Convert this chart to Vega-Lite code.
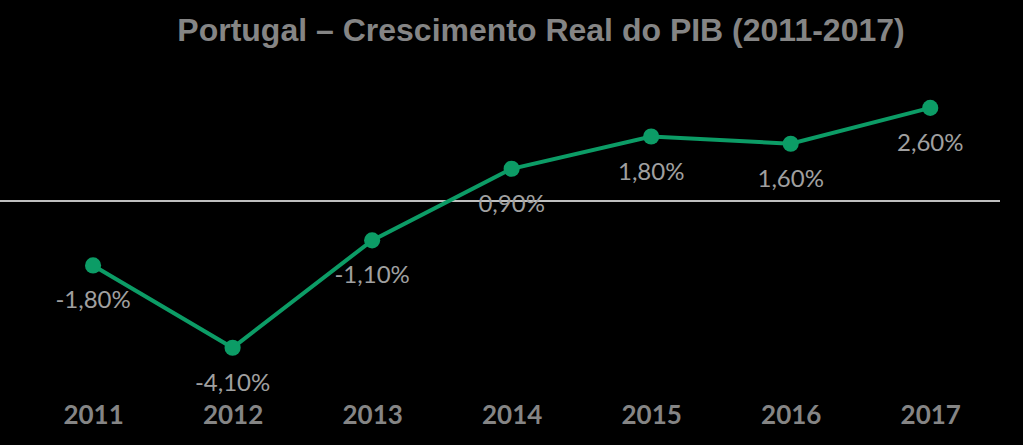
{
  "$schema": "https://vega.github.io/schema/vega-lite/v6.json",
  "width": 1000,
  "height": 330,
  "autosize": {"type": "none"},
  "padding": {"top": 70, "left": 0, "right": 23, "bottom": 45},
  "background": "#000000",
  "config": {
    "view": {"stroke": null},
    "locale": {"number": {"decimal": ",", "thousands": ".", "grouping": [3], "currency": ["", " €"], "minus": "-"}}
  },
  "title": {
    "text": "Portugal – Crescimento Real do PIB (2011-2017)",
    "font": "Liberation Sans",
    "fontWeight": "bold",
    "fontSize": 32,
    "color": "#858585",
    "anchor": "middle",
    "dx": 41,
    "offset": 22
  },
  "data": {
    "values": [
      {"ano": 2011, "pib": -0.018},
      {"ano": 2012, "pib": -0.041},
      {"ano": 2013, "pib": -0.011},
      {"ano": 2014, "pib": 0.009},
      {"ano": 2015, "pib": 0.018},
      {"ano": 2016, "pib": 0.016},
      {"ano": 2017, "pib": 0.026}
    ]
  },
  "encoding": {
    "x": {
      "field": "ano",
      "type": "quantitative",
      "scale": {"domain": [2010.333, 2017.5], "nice": false, "zero": false},
      "axis": {
        "values": [2011, 2012, 2013, 2014, 2015, 2016, 2017],
        "format": "d",
        "title": null,
        "grid": false,
        "ticks": false,
        "domain": false,
        "labelFlush": false,
        "labelOverlap": false,
        "labelFont": "Lato",
        "labelFontWeight": "bold",
        "labelFontSize": 26,
        "labelColor": "#858585",
        "labelPadding": 2
      }
    },
    "y": {
      "field": "pib",
      "type": "quantitative",
      "scale": {"domain": [-0.05559, 0.03659], "nice": false, "zero": false},
      "axis": null
    }
  },
  "layer": [
    {
      "mark": {"type": "rule", "color": "#bfbfbf", "strokeWidth": 1.5},
      "encoding": {"y": {"datum": 0}, "x": null}
    },
    {
      "mark": {"type": "line", "color": "#0c9c66", "strokeWidth": 4}
    },
    {
      "mark": {"type": "point", "filled": true, "color": "#0c9c66", "opacity": 1, "size": 260}
    },
    {
      "mark": {"type": "text", "dy": 36, "baseline": "middle", "align": "center", "font": "Lato", "fontSize": 24, "color": "#a0a0a0"},
      "encoding": {"text": {"field": "pib", "type": "quantitative", "format": ".2%"}}
    }
  ]
}
